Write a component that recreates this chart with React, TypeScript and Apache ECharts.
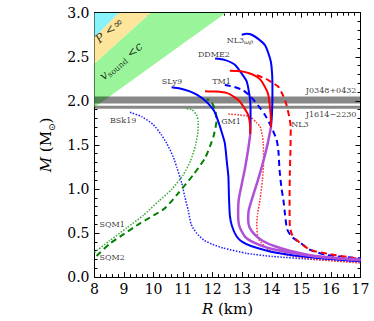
import React, { useEffect, useRef } from "react";
import * as echarts from "echarts";

// ---------- data (R in km, M in solar masses) ----------
const SLy9 = [[10.61,2.155],[10.89,2.14],[11.2,2.11],[11.46,2.07],[11.75,2.0],[12.02,1.9],[12.13,1.82],[12.3,1.65],[12.41,1.52],[12.48,1.3],[12.53,1.14],[12.55,0.9],[12.58,0.7],[12.65,0.58],[12.81,0.46],[13.0,0.4],[13.32,0.35],[14.1,0.28],[15.46,0.22],[17,0.18]];
const DDME2 = [[12.08,2.48],[12.4,2.465],[12.75,2.41],[13.0,2.3],[13.15,2.22],[13.25,2.05],[13.28,1.92],[13.28,1.72],[13.27,1.62]];
const TM1solid = [[11.74,2.11],[12.1,2.105],[12.47,2.09],[12.75,2.04],[12.92,1.99],[13.1,1.9],[13.2,1.84],[13.26,1.74],[13.27,1.62]];
const purpleLow1 = [[13.27,1.62],[13.2,1.45],[13.1,1.25],[12.98,1.05],[12.88,0.88],[12.86,0.72],[12.9,0.58],[13.09,0.46],[13.4,0.39],[13.88,0.33],[14.6,0.28],[15.46,0.235],[17,0.19]];
const NL3wr = [[12.98,2.75],[13.15,2.76],[13.32,2.75],[13.55,2.7],[13.77,2.63],[13.94,2.48],[13.99,2.39],[14.02,2.2],[14.02,2.05],[14.0,1.82],[13.97,1.7]];
const NL3solid = [[12.58,2.34],[12.95,2.335],[13.26,2.31],[13.5,2.27],[13.66,2.22],[13.88,2.07],[13.96,1.84],[13.97,1.7]];
const purpleLow2 = [[13.97,1.7],[13.85,1.5],[13.7,1.3],[13.53,1.1],[13.36,0.92],[13.22,0.76],[13.2,0.65],[13.25,0.56],[13.43,0.48],[13.7,0.41],[14.1,0.35],[14.6,0.3],[15.46,0.24],[16.3,0.215],[17,0.2]];
const TM1dashed = [[12.41,2.18],[12.7,2.16],[13.03,2.12],[13.25,2.06],[13.43,1.99],[13.6,1.92],[13.77,1.84],[13.9,1.76],[14.0,1.69],[14.16,1.56],[14.22,1.44],[14.26,1.22],[14.33,1.0],[14.39,0.88],[14.45,0.7],[14.52,0.54],[14.7,0.45],[15.0,0.38],[15.29,0.31],[15.85,0.25],[16.75,0.22],[17,0.215]];
const NL3dashed = [[13.49,2.29],[13.8,2.25],[14.0,2.21],[14.22,2.16],[14.38,2.06],[14.5,1.95],[14.6,1.8],[14.64,1.7],[14.63,1.44],[14.61,1.2],[14.6,0.88],[14.61,0.57],[14.7,0.47],[14.84,0.42],[15.29,0.31],[15.97,0.26],[17,0.205]];
const GM1dotted = [[12.53,1.85],[12.9,1.84],[13.26,1.82],[13.49,1.75],[13.6,1.71],[13.68,1.6],[13.71,1.52],[13.72,1.3],[13.68,1.1],[13.6,0.88],[13.52,0.72],[13.49,0.6],[13.54,0.44],[13.88,0.31],[14.5,0.25],[15.46,0.2],[17,0.16]];
const BSk19 = [[9.2,1.87],[9.6,1.82],[9.99,1.73],[10.25,1.62],[10.44,1.52],[10.67,1.36],[10.78,1.25],[10.95,1.07],[11.05,0.92],[11.17,0.76],[11.27,0.6],[11.45,0.5],[11.7,0.42],[12.0,0.37],[12.35,0.33],[13.15,0.27],[14.0,0.235],[15.46,0.2],[17,0.175]];
const SQM1 = [[8.0,0.28],[8.5,0.41],[9.1,0.56],[9.65,0.7],[10.2,0.87],[10.6,0.99],[11.0,1.16],[11.25,1.32],[11.42,1.5],[11.5,1.65],[11.51,1.76],[11.45,1.84],[11.3,1.9],[11.1,1.91]];
const SQM2 = [[8.07,0.24],[8.52,0.38],[9.0,0.49],[9.54,0.61],[10.0,0.7],[10.38,0.78],[10.83,0.95],[11.34,1.16],[11.74,1.35],[12.02,1.59],[12.13,1.78],[12.08,1.9],[11.95,1.99],[11.8,2.02]];

// excluded regions (polygons)
const regionPinf = [[8,2.721],[8,3],[8.82,3]];
const regionP = [[8,2.424],[8,2.721],[8.82,3],[9.9,3]];
const regionCausal = [[8,1.928],[8,2.424],[9.9,3],[12.45,3]];

// pulsar mass bands [low, high]
const bandJ0348 = [1.97, 2.05];
const bandJ1614 = [1.911, 1.945];

// text labels [R, M, text]
const curveLabels: [number, number, string][] = [
  [10.62, 2.22, "SLy9"],
  [8.97, 1.78, "BSk19"],
  [12.04, 2.53, "DDME2"],
  [12.92, 2.69, "{a|NL3}{w|ωρ}"],
  [12.3, 2.22, "TM1"],
  [12.62, 1.77, "GM1"],
  [14.95, 1.73, "NL3"],
  [8.6, 0.6, "SQM1"],
  [8.6, 0.22, "SQM2"],
];
const pulsarLabels: [number, number, string][] = [
  [16.88, 2.12, "J0348+0432"],
  [16.88, 1.85, "J1614−2230"],
];
const regionLabels: [number, number, string][] = [
  [8.5, 2.8, "{i|P}{n| <∞}"],
  [8.9, 2.45, "{i|v}{s|sound}{n| <}{i|c}"],
];

const SERIF = "DejaVu Serif";

function curve(data: number[][], color: string, type: any, width: number) {
  return {
    type: "line",
    data,
    symbol: "none",
    showSymbol: false,
    smooth: 0.2,
    clip: true,
    silent: true,
    z: 5,
    lineStyle: { color, width, type, cap: "butt" },
  };
}

function polygon(verts: number[][], fill: string, z: number) {
  return {
    type: "custom",
    data: [[verts[0][0], verts[0][1]]],
    silent: true,
    clip: true,
    z,
    renderItem: (_p: any, api: any) => ({
      type: "polygon",
      shape: { points: verts.map((v) => api.coord(v)) },
      style: { fill },
    }),
  };
}

function band(range: number[], fill: string) {
  return {
    type: "custom",
    data: [[8, range[0]]],
    silent: true,
    clip: true,
    z: 3,
    renderItem: (_p: any, api: any) => {
      const a = api.coord([8, range[1]]);
      const b = api.coord([17, range[0]]);
      return {
        type: "rect",
        shape: { x: a[0], y: a[1], width: b[0] - a[0], height: b[1] - a[1] },
        style: { fill },
      };
    },
  };
}

function labels(items: [number, number, string][], style: any) {
  return {
    type: "scatter",
    data: items.map((d) => ({ value: [d[0], d[1]], name: d[2] })),
    symbolSize: 1,
    itemStyle: { color: "rgba(0,0,0,0)" },
    silent: true,
    z: 10,
    label: {
      show: true,
      position: "inside",
      formatter: (p: any) => p.name,
      color: "#000",
      fontFamily: SERIF,
      ...style,
    },
  };
}

const axisCommon = {
  type: "value",
  axisLine: { show: true, onZero: false, lineStyle: { color: "#000", width: 1 } },
  axisTick: { show: true, inside: true, length: 5, lineStyle: { color: "#000" } },
  minorTick: { show: true, splitNumber: 5, length: 3, lineStyle: { color: "#000" } },
  splitLine: { show: false },
};

export default function App() {
  const ref = useRef<HTMLDivElement>(null);
  useEffect(() => {
    const chart = echarts.init(ref.current!, null, { renderer: "svg" });
    const option: any = {
      animation: false,
      backgroundColor: "#fff",
      grid: { left: 94.5, top: 12.7, right: 13.5, bottom: 43.5, containLabel: false },
      xAxis: [
        {
          ...axisCommon, min: 8, max: 17, interval: 1, position: "bottom",
          axisLabel: { show: true, margin: 5, fontFamily: SERIF, fontSize: 14, color: "#000" },
          name: "{i|R} (km)", nameLocation: "middle", nameGap: 20,
          nameTextStyle: { fontFamily: SERIF, fontSize: 15, color: "#000",
            rich: { i: { fontFamily: SERIF, fontSize: 15, fontStyle: "italic", color: "#000" } } },
        },
        { ...axisCommon, min: 8, max: 17, interval: 1, position: "top", axisLabel: { show: false } },
      ],
      yAxis: [
        {
          ...axisCommon, min: 0, max: 3, interval: 0.5, position: "left",
          axisLabel: { show: true, margin: 5, fontFamily: SERIF, fontSize: 14, color: "#000",
            formatter: (v: number) => v.toFixed(1) },
          name: "{i|M} (M{s|⊙})", nameLocation: "middle", nameRotate: 90, nameGap: 29,
          nameTextStyle: { fontFamily: SERIF, fontSize: 15, color: "#000",
            rich: {
              i: { fontFamily: SERIF, fontSize: 15, fontStyle: "italic", color: "#000", lineHeight: 20, verticalAlign: "middle" },
              s: { fontFamily: "DejaVu Sans", fontSize: 9, color: "#000", lineHeight: 20, verticalAlign: "bottom" },
            } },
        },
        { ...axisCommon, min: 0, max: 3, interval: 0.5, position: "right", axisLabel: { show: false } },
      ],
      series: [
        polygon(regionCausal, "#9af59a", 1),
        polygon(regionP, "#fde59c", 1),
        polygon(regionPinf, "#88f3fb", 1),
        band(bandJ0348, "rgba(0,0,0,0.47)"),
        band(bandJ1614, "rgba(0,0,0,0.47)"),
        curve(BSk19, "#1f1fff", [1.5, 1.5], 1.5),
        curve(SQM1, "#3aa83a", [1.5, 1.5], 1.5),
        curve(SQM2, "#008000", [6, 4], 2),
        curve(GM1dotted, "#ff2a2a", [1.5, 1.5], 1.5),
        curve(TM1dashed, "#0000ff", [6, 4], 2),
        curve(NL3dashed, "#ff0000", [6, 4], 2),
        curve(SLy9, "#0000ff", "solid", 2),
        curve(purpleLow1, "#b050d8", "solid", 2.5),
        curve(purpleLow2, "#b050d8", "solid", 2.5),
        curve(DDME2, "#0000ff", "solid", 2),
        curve(TM1solid, "#ff0000", "solid", 2),
        curve(NL3wr, "#0000ff", "solid", 2),
        curve(NL3solid, "#ff0000", "solid", 2),
        labels(curveLabels, {
          fontSize: 8,
          rich: {
            a: { fontFamily: SERIF, fontSize: 8, color: "#000" },
            w: { fontFamily: SERIF, fontSize: 6.5, fontStyle: "italic", color: "#000", padding: [4, 0, 0, 0] },
          },
        }),
        labels(pulsarLabels, { fontSize: 8, position: "left", distance: 0 }),
        labels(regionLabels, {
          rotate: 40,
          rich: {
            i: { fontFamily: SERIF, fontSize: 12, fontStyle: "italic", color: "#000" },
            n: { fontFamily: SERIF, fontSize: 12, color: "#000" },
            s: { fontFamily: SERIF, fontSize: 8, color: "#000", padding: [6, 0, 0, 0] },
          },
        }),
      ],
    };
    chart.setOption(option);
    return () => chart.dispose();
  }, []);
  return (
    <div
      ref={ref}
      style={{ position: "fixed", left: 0, top: 0, width: 374, height: 321, background: "#fff" }}
    />
  );
}
